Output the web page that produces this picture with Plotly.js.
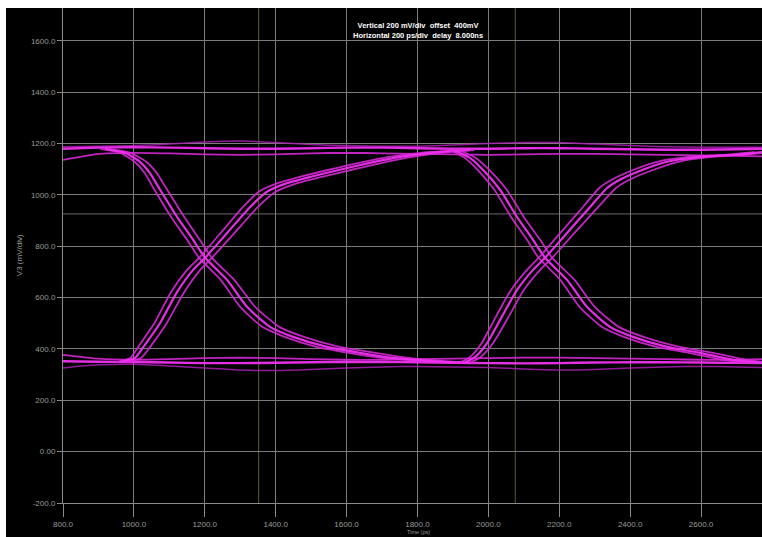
<!DOCTYPE html>
<html>
<head>
<meta charset="utf-8">
<script src="https://cdn.plot.ly/plotly-3.0.1.min.js"></script>
<style>
  html, body { margin: 0; padding: 0; background: #ffffff; width: 762px; height: 537px; overflow: hidden; }
  #chart { position: absolute; left: 6px; top: 8px; width: 756px; height: 529px; }
</style>
</head>
<body>
<div id="chart"></div>
<script>
// ---- tick labels ----
const xTickVals = [800, 1000, 1200, 1400, 1600, 1800, 2000, 2200, 2400, 2600];
const xTickText = ["800.0", "1000.0", "1200.0", "1400.0", "1600.0", "1800.0", "2000.0", "2200.0", "2400.0", "2600.0"];
const yTickVals = [-200, 0, 200, 400, 600, 800, 1000, 1200, 1400, 1600];
const yTickText = ["-200.0", "0.00", "200.0", "400.0", "600.0", "800.0", "1000.0", "1200.0", "1400.0", "1600.0"];
const markerTimes = [1352, 2076];   // ps, vertical cursor lines
const markerLevel = 926;            // mV, horizontal cursor line

// ---- rails (time in ps, voltage in mV) ----
const railT = [800, 900, 1000, 1100, 1200, 1300, 1400, 1500, 1600, 1700, 1800, 1900, 2000, 2100, 2200, 2300, 2400, 2500, 2600, 2700, 2772];
const topHi  = [1188, 1190, 1192, 1198, 1206, 1210, 1204, 1196, 1192, 1190, 1190, 1194, 1200, 1204, 1204, 1198, 1192, 1188, 1186, 1186, 1186];
const topMid = [1180, 1184, 1186, 1184, 1182, 1180, 1180, 1182, 1184, 1184, 1182, 1180, 1180, 1182, 1182, 1180, 1178, 1176, 1176, 1178, 1180];
const topLo  = [1136, 1160, 1164, 1162, 1158, 1156, 1158, 1162, 1164, 1162, 1160, 1158, 1156, 1158, 1160, 1160, 1158, 1156, 1154, 1152, 1150];
const botHi  = [377, 362, 358, 360, 364, 366, 364, 360, 358, 358, 360, 362, 364, 366, 366, 364, 362, 360, 358, 358, 360];
const botMid = [352, 350, 349, 347, 345, 345, 346, 348, 349, 349, 348, 346, 345, 344, 345, 347, 348, 348, 347, 346, 345];
const botLo  = [326, 338, 340, 334, 326, 318, 316, 320, 326, 330, 332, 330, 328, 322, 318, 320, 326, 330, 332, 330, 328];

// ---- first falling edge ----
const fall1V  = [1179, 1164, 1129, 1086, 1020, 914, 825, 755, 669, 564, 486, 447, 408, 385, 365, 353, 346];
const fall1Ta = [918, 975, 1017, 1045, 1074, 1122, 1167, 1201, 1263, 1319, 1384, 1449, 1545, 1638, 1731, 1835, 1948];
const fall1Tb = [930, 990, 1035, 1064, 1094, 1142, 1186, 1220, 1283, 1342, 1410, 1480, 1580, 1680, 1775, 1870, 1960];
const fall1Tc = [905, 962, 1002, 1030, 1058, 1105, 1150, 1184, 1245, 1300, 1362, 1425, 1515, 1605, 1700, 1810, 1940];

// ---- first rising edge ----
const rise1V  = [349, 365, 416, 501, 622, 708, 755, 852, 953, 1012, 1043, 1070, 1098, 1125, 1148, 1164, 1175];
const rise1Ta = [961, 1003, 1031, 1074, 1122, 1167, 1201, 1263, 1328, 1375, 1426, 1497, 1581, 1666, 1751, 1835, 1948];
const rise1Tb = [975, 1020, 1050, 1093, 1142, 1187, 1220, 1284, 1350, 1400, 1455, 1530, 1615, 1700, 1785, 1865, 1960];
const rise1Tc = [950, 990, 1016, 1058, 1105, 1150, 1184, 1245, 1308, 1352, 1400, 1468, 1550, 1635, 1720, 1810, 1935];

// ---- second falling edge ----
const fall2V  = [1172, 1144, 1090, 1020, 914, 825, 755, 669, 564, 486, 447, 408, 385, 358, 346];
const fall2Ta = [1906, 1948, 1990, 2033, 2081, 2126, 2160, 2222, 2278, 2343, 2408, 2504, 2597, 2690, 2772];
const fall2Tb = [1920, 1965, 2008, 2052, 2100, 2146, 2180, 2243, 2300, 2368, 2438, 2540, 2635, 2725, 2800];
const fall2Tc = [1895, 1934, 1975, 2017, 2064, 2109, 2142, 2203, 2257, 2320, 2382, 2475, 2565, 2660, 2750];

// ---- second rising edge ----
const rise2V  = [349, 368, 420, 530, 630, 708, 755, 852, 953, 1027, 1059, 1098, 1129, 1148, 1156, 1167];
const rise2Ta = [1935, 1962, 1995, 2040, 2081, 2126, 2160, 2222, 2287, 2335, 2371, 2436, 2504, 2597, 2690, 2772];
const rise2Tb = [1950, 1978, 2012, 2059, 2100, 2146, 2180, 2243, 2310, 2360, 2398, 2466, 2536, 2630, 2725, 2800];
const rise2Tc = [1922, 1948, 1980, 2023, 2064, 2109, 2142, 2203, 2267, 2313, 2348, 2410, 2476, 2565, 2660, 2750];

const BRIGHT = "rgba(240,50,240,0.95)";
const MID = "rgba(215,40,215,0.9)";
const DIM = "rgba(170,30,180,0.85)";

function line(x, y, color, width) {
  return { type: "scatter", mode: "lines", x: x, y: y, hoverinfo: "skip",
           line: { color: color, width: width, shape: "spline", smoothing: 0.6 }, showlegend: false };
}

const traces = [
  line(railT, topHi, DIM, 1.5),
  line(railT, topLo, MID, 1.8),
  line(railT, topMid, BRIGHT, 2.4),
  line(railT, botLo, DIM, 1.5),
  line(railT, botHi, MID, 1.8),
  line(railT, botMid, BRIGHT, 2.4),
  line(fall1Tb, fall1V, MID, 1.8),
  line(fall1Tc, fall1V, MID, 1.8),
  line(fall1Ta, fall1V, BRIGHT, 2.2),
  line(rise1Tb, rise1V, MID, 1.8),
  line(rise1Tc, rise1V, MID, 1.8),
  line(rise1Ta, rise1V, BRIGHT, 2.2),
  line(fall2Tb, fall2V, MID, 1.8),
  line(fall2Tc, fall2V, MID, 1.8),
  line(fall2Ta, fall2V, BRIGHT, 2.2),
  line(rise2Tb, rise2V, MID, 1.8),
  line(rise2Tc, rise2V, MID, 1.8),
  line(rise2Ta, rise2V, BRIGHT, 2.2)
];

const shapes = markerTimes.map(t => ({
  type: "line", xref: "x", yref: "paper", x0: t, x1: t, y0: 0, y1: 1,
  line: { color: "#5e5e26", width: 1 }, layer: "below"
}));
shapes.push({ type: "line", xref: "paper", yref: "y", x0: 0, x1: 1, y0: markerLevel, y1: markerLevel,
  line: { color: "#6a6a6a", width: 1 }, layer: "below" });

const tickFont = { family: "Liberation Sans, Arial, sans-serif", size: 8, color: "#9a9a9a" };

const layout = {
  width: 756, height: 529,
  margin: { l: 57, r: 0, t: 0, b: 34 },
  paper_bgcolor: "#000000",
  plot_bgcolor: "#000000",
  xaxis: {
    range: [800, 2772], tickvals: xTickVals, ticktext: xTickText,
    showgrid: true, gridcolor: "#7c7c7c", gridwidth: 1, zeroline: false,
    showline: true, linecolor: "#8a8a8a", linewidth: 1,
    ticks: "outside", ticklen: 13, tickcolor: "#8a8a8a", tickfont: tickFont
  },
  yaxis: {
    range: [-200, 1728], tickvals: yTickVals, ticktext: yTickText,
    showgrid: true, gridcolor: "#7c7c7c", gridwidth: 1, zeroline: false,
    showline: true, linecolor: "#8a8a8a", linewidth: 1,
    ticks: "outside", ticklen: 5, tickcolor: "#8a8a8a", tickfont: tickFont
  },
  shapes: shapes,
  annotations: [
    { xref: "paper", yref: "paper", x: 0.508, y: 0.978, showarrow: false,
      text: "<b>Vertical 200 mV/div  offset  400mV</b><br><b>Horizontal 200 ps/div  delay  8.000ns</b>",
      font: { family: "Liberation Sans, Arial, sans-serif", size: 7.5, color: "#ffffff" } },
    { xref: "paper", yref: "paper", x: -0.062, xanchor: "center", y: 0.5, showarrow: false, textangle: -90,
      text: "V3 (mV/div)", font: { family: "Liberation Sans, Arial, sans-serif", size: 8, color: "#9a9a9a" } },
    { xref: "paper", yref: "paper", x: 0.508, y: -0.0672, yanchor: "bottom", borderpad: 0, showarrow: false,
      text: "Time (ps)", font: { family: "Liberation Sans, Arial, sans-serif", size: 5.5, color: "#9a9a9a" } }
  ]
};

Plotly.newPlot("chart", traces, layout, { displayModeBar: false, staticPlot: true });
</script>
</body>
</html>
